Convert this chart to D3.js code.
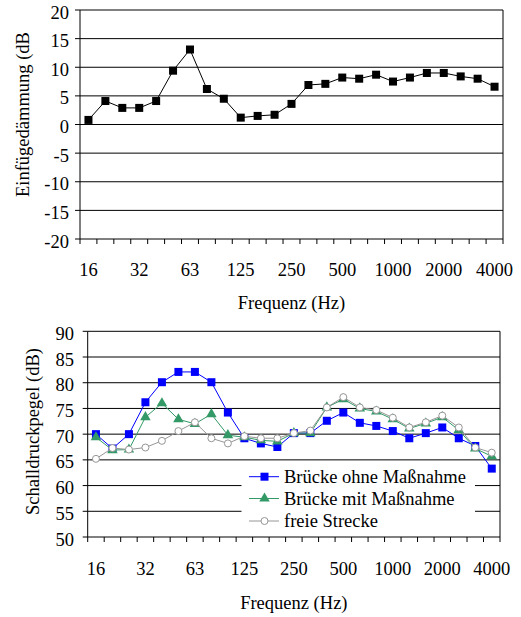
<!DOCTYPE html>
<html>
<head>
<meta charset="utf-8">
<script src="https://cdn.jsdelivr.net/npm/d3@7"></script>
<style>
  body { margin: 0; background: #fff; }
</style>
</head>
<body>
<div id="chart"></div>
<script>
// third-octave bands
const bands = ["16","20","25","31.5","40","50","63","80","100","125","160","200","250","315","400","500","630","800","1000","1250","1600","2000","2500","3150","4000"];
const labelBands = ["16","31.5","63","125","250","500","1000","2000","4000"];
const labelTexts = ["16","32","63","125","250","500","1000","2000","4000"];

// top chart
const daemmung = [0.8,4.1,2.9,2.9,4.1,9.4,13.1,6.2,4.5,1.2,1.5,1.7,3.6,6.9,7.1,8.2,8.0,8.7,7.5,8.2,9.0,9.0,8.4,8.0,6.6];
const topTicks = [-20,-15,-10,-5,0,5,10,15,20];

// bottom chart
const ohne = [70,67.2,70,76.2,80.1,82.1,82.1,80.1,74.2,69.2,68.2,67.5,70.2,70.2,72.6,74.2,72.2,71.6,70.6,69.2,70.2,71.3,69.2,67.7,63.3];
const mit = [69.4,66.9,67.0,73.3,76.0,72.9,72.0,73.9,69.8,69.4,68.8,68.6,70.2,70.2,75.2,76.8,75.0,74.4,72.9,71.1,72.1,73.3,70.8,67.2,65.7];
const frei = [65.2,67.3,67.0,67.4,68.7,70.6,72.3,69.2,68.2,69.6,69.2,69.2,70.2,70.7,75.2,77.2,75.2,74.7,73.2,71.3,72.3,73.6,71.3,67.4,66.4];
const bottomTicks = [50,55,60,65,70,75,80,85,90];
const seriesNames = ["Brücke ohne Maßnahme","Brücke mit Maßnahme","freie Strecke"];

const width = 521, height = 617;

const svg = d3.select("#chart").append("svg")
    .attr("width", width)
    .attr("height", height)
    .attr("font-family", "'Liberation Serif', Tinos, 'Times New Roman', 'Nimbus Roman', 'DejaVu Serif', serif")
    .attr("font-size", 18.5)
    .style("background", "#fff");

function panel(opts) {
    const x = d3.scaleBand().domain(bands).range([opts.left, opts.right]).padding(0);
    const y = d3.scaleLinear().domain(opts.yDomain).range([opts.bottom, opts.top]);
    const g = svg.append("g");

    // gridlines
    g.selectAll("line.grid")
        .data(opts.yTicks.slice(1))
        .join("line")
        .attr("class", "grid")
        .attr("x1", opts.left).attr("x2", opts.right)
        .attr("y1", d => y(d)).attr("y2", d => y(d))
        .attr("stroke", "#000").attr("stroke-width", 1);

    // right border
    g.append("line")
        .attr("x1", opts.right).attr("x2", opts.right)
        .attr("y1", opts.top).attr("y2", opts.bottom)
        .attr("stroke", "#000");

    // left axis
    g.append("line")
        .attr("x1", opts.left).attr("x2", opts.left)
        .attr("y1", opts.top).attr("y2", opts.bottom)
        .attr("stroke", "#000");
    g.selectAll("line.ytick")
        .data(opts.yTicks)
        .join("line")
        .attr("class", "ytick")
        .attr("x1", opts.left - 5).attr("x2", opts.left)
        .attr("y1", d => y(d)).attr("y2", d => y(d))
        .attr("stroke", "#000");
    g.selectAll("text.ylab")
        .data(opts.yTicks)
        .join("text")
        .attr("class", "ylab")
        .attr("x", opts.labelRight)
        .attr("y", d => y(d) + 8.5)
        .attr("text-anchor", "end")
        .text(d => d);

    // bottom axis
    g.append("line")
        .attr("x1", opts.left).attr("x2", opts.right)
        .attr("y1", opts.bottom).attr("y2", opts.bottom)
        .attr("stroke", "#000");
    const bounds = bands.map(b => x(b)).concat([opts.right]);
    g.selectAll("line.xtick")
        .data(bounds)
        .join("line")
        .attr("class", "xtick")
        .attr("x1", d => d).attr("x2", d => d)
        .attr("y1", opts.bottom).attr("y2", opts.bottom + 5)
        .attr("stroke", "#000");
    g.selectAll("text.xlab")
        .data(labelBands)
        .join("text")
        .attr("class", "xlab")
        .attr("x", d => x(d) + x.bandwidth() / 2)
        .attr("y", opts.xLabelY)
        .attr("text-anchor", "middle")
        .text((d, i) => labelTexts[i]);

    g.append("text")
        .attr("x", (opts.left + opts.right) / 2)
        .attr("y", opts.xTitleY)
        .attr("text-anchor", "middle")
        .text("Frequenz (Hz)");

    return {x, y, g};
}

// ---- top chart
const topChart = panel({
    left: 80, right: 503, top: 10, bottom: 239,
    yDomain: [-20, 20], yTicks: topTicks, labelRight: 69,
    xLabelY: 276, xTitleY: 309
});
topChart.g.append("text")
    .attr("transform", "translate(29,197) rotate(-90)")
    .attr("text-anchor", "start")
    .text("Einfügedämmung (dB");

const cx = (xs, i) => xs(bands[i]) + xs.bandwidth() / 2;

topChart.g.append("path")
    .datum(daemmung)
    .attr("fill", "none")
    .attr("stroke", "#000")
    .attr("stroke-width", 1)
    .attr("d", d3.line().x((d, i) => cx(topChart.x, i)).y(d => topChart.y(d)));
topChart.g.selectAll("rect.pt")
    .data(daemmung)
    .join("rect")
    .attr("class", "pt")
    .attr("x", (d, i) => cx(topChart.x, i) - 4)
    .attr("y", d => topChart.y(d) - 4)
    .attr("width", 8).attr("height", 8)
    .attr("fill", "#000");

// ---- bottom chart
const botChart = panel({
    left: 87.7, right: 500, top: 331.3, bottom: 537,
    yDomain: [50, 90], yTicks: bottomTicks, labelRight: 74,
    xLabelY: 575, xTitleY: 609
});
botChart.g.append("text")
    .attr("transform", "translate(39,431.5) rotate(-90)")
    .attr("text-anchor", "middle")
    .text("Schalldruckpegel (dB)");

// legend background covers gridlines
const legend = botChart.g.append("g");
legend.append("rect")
    .attr("x", 241.5).attr("y", 462)
    .attr("width", 233.5).attr("height", 74)
    .attr("fill", "#fff");

const colors = ["#0000ff", "#339966", "#969696"];
const allSeries = [ohne, mit, frei];

function marker(sel, k, size) {
    if (k === 0) {
        sel.append("rect")
            .attr("x", -size / 2).attr("y", -size / 2)
            .attr("width", size).attr("height", size)
            .attr("fill", colors[0]);
    } else if (k === 1) {
        sel.append("path")
            .attr("d", d3.symbol(d3.symbolTriangle, size * size * 0.75)())
            .attr("fill", colors[1]);
    } else {
        sel.append("circle")
            .attr("r", size / 2 - 0.5)
            .attr("fill", "#fff")
            .attr("stroke", colors[2])
            .attr("stroke-width", 1);
    }
}

[0, 1, 2].forEach(k => {
    const data = allSeries[k];
    botChart.g.append("path")
        .datum(data)
        .attr("fill", "none")
        .attr("stroke", colors[k])
        .attr("stroke-width", 1)
        .attr("d", d3.line().x((d, i) => cx(botChart.x, i)).y(d => botChart.y(d)));
    botChart.g.selectAll("g.m" + k)
        .data(data)
        .join("g")
        .attr("class", "m" + k)
        .attr("transform", (d, i) => `translate(${cx(botChart.x, i)},${botChart.y(d)})`)
        .each(function() { marker(d3.select(this), k, 8); });
});

const rowY = [476.7, 498.5, 521];
seriesNames.forEach((name, k) => {
    const row = legend.append("g").attr("transform", `translate(0,${rowY[k]})`);
    row.append("line")
        .attr("x1", 249).attr("x2", 279)
        .attr("y1", 0).attr("y2", 0)
        .attr("stroke", colors[k]);
    const m = row.append("g").attr("transform", "translate(264.5,0)");
    marker(m, k, 8);
    row.append("text")
        .attr("x", 284)
        .attr("y", 6.3)
        .text(name);
});

// top edge of the picture is clipped in the original
svg.append("rect")
    .attr("x", 0).attr("y", 0)
    .attr("width", width).attr("height", 6)
    .attr("fill", "#fff");
</script>
</body>
</html>
